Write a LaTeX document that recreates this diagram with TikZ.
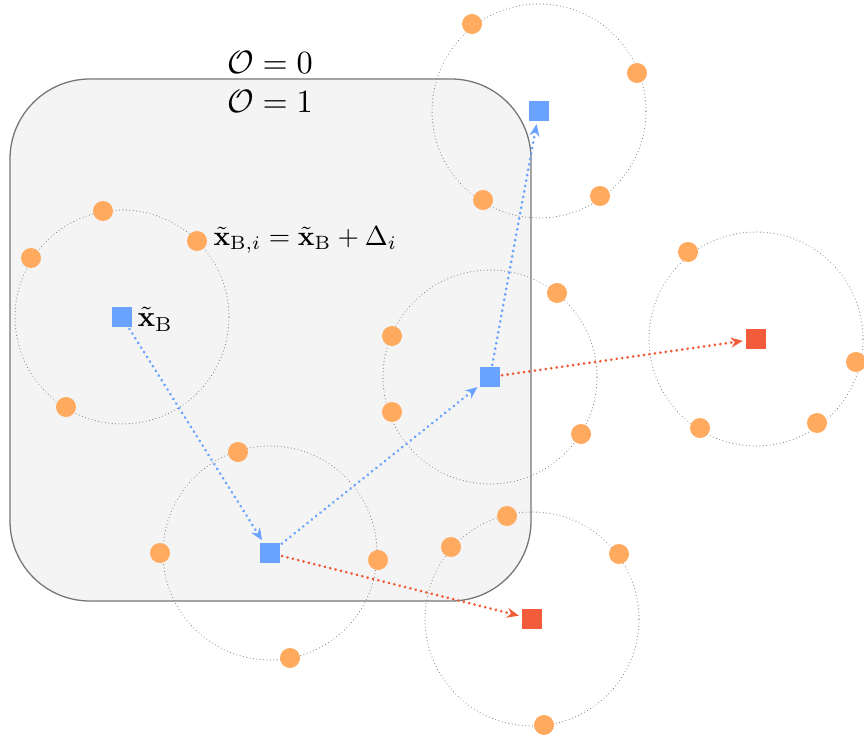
\documentclass[tikz,border=0pt]{standalone}
\usetikzlibrary{arrows.meta}
\definecolor{sqblue}{HTML}{6AA2FF}
\definecolor{dotor}{HTML}{FFAA5E}
\definecolor{sqred}{HTML}{F25C3B}
\definecolor{boxfill}{HTML}{F4F4F4}
\definecolor{boxline}{HTML}{777777}
\begin{document}
\begin{tikzpicture}[x=1pt,y=-1pt,
  ring/.style={circle,draw=gray,line width=1.1pt,dash pattern=on 0.01pt off 3.4pt,line cap=round,minimum size=214pt,inner sep=0pt},
  odot/.style={circle,fill=dotor,minimum size=20pt,inner sep=0pt},
  bsq/.style={rectangle,fill=sqblue,minimum size=20pt,inner sep=0pt},
  rsq/.style={rectangle,fill=sqred,minimum size=20pt,inner sep=0pt},
  barrow/.style={draw=sqblue,line width=3pt,dash pattern=on 0.01pt off 5.5pt,line cap=round,-{Stealth[length=12pt,width=10pt]},shorten >=3pt,shorten <=2pt},
  rarrow/.style={barrow,draw=sqred},
  lbl/.style={inner sep=0pt,scale=2.75},
  olbl/.style={inner sep=0pt,scale=3.23}]
\useasboundingbox (0,0) rectangle (864,738);
\draw[fill=boxfill,draw=boxline,line width=1.3pt,rounded corners=80pt] (10,79) rectangle (531,601);
% rings
\node[ring] (c1) at (122,317) {};
\node[ring] (c2) at (270,553) {};
\node[ring] (c3) at (490,377) {};
\node[ring] (c4) at (539,111) {};
\node[ring] (c5) at (756,339) {};
\node[ring] (c6) at (532,619) {};
% dots
\foreach \n/\x/\y in {a1/103/211,a2/31/258,a3/197/241,a4/66/407,
  b1/238/452,b2/160/553,b3/378/560,b4/290/658,
  d1/557/293,d2/392/336,d3/392/412,d4/581/434,
  e1/472/24,e2/637/73,e3/483/200,e4/600/196,
  f1/688/252,f2/856/362,f3/700/428,f4/817/423,
  g1/507/516,g2/451/547,g3/619/554,g4/544/725}
  \node[odot] (\n) at (\x,\y) {};
% squares
\node[bsq] (s1) at (122,317) {};
\node[bsq] (s2) at (270,553) {};
\node[bsq] (s3) at (490,377) {};
\node[bsq] (s4) at (539,111) {};
\node[rsq] (r1) at (756,339) {};
\node[rsq] (r2) at (532,619) {};
% arrows
\draw[barrow] (s1) -- (s2);
\draw[barrow] (s2) -- (s3);
\draw[barrow] (s3) -- (s4);
\draw[rarrow] (s2) -- (r2);
\draw[rarrow] (s3) -- (r1);
% labels
\node[olbl] (o0) at (270,62) {$\mathcal{O}=0$};
\node[olbl] (o1) at (270,101) {$\mathcal{O}=1$};
\node[lbl,anchor=west] (xbi) at (213,240) {$\tilde{\mathbf{x}}_{\mathrm{B},i}=\tilde{\mathbf{x}}_{\mathrm{B}}+\Delta_i$};
\node[inner sep=0pt,scale=2.9,anchor=west] (xb) at (137,319) {$\tilde{\mathbf{x}}_{\mathrm{B}}$};
\end{tikzpicture}
\end{document}
